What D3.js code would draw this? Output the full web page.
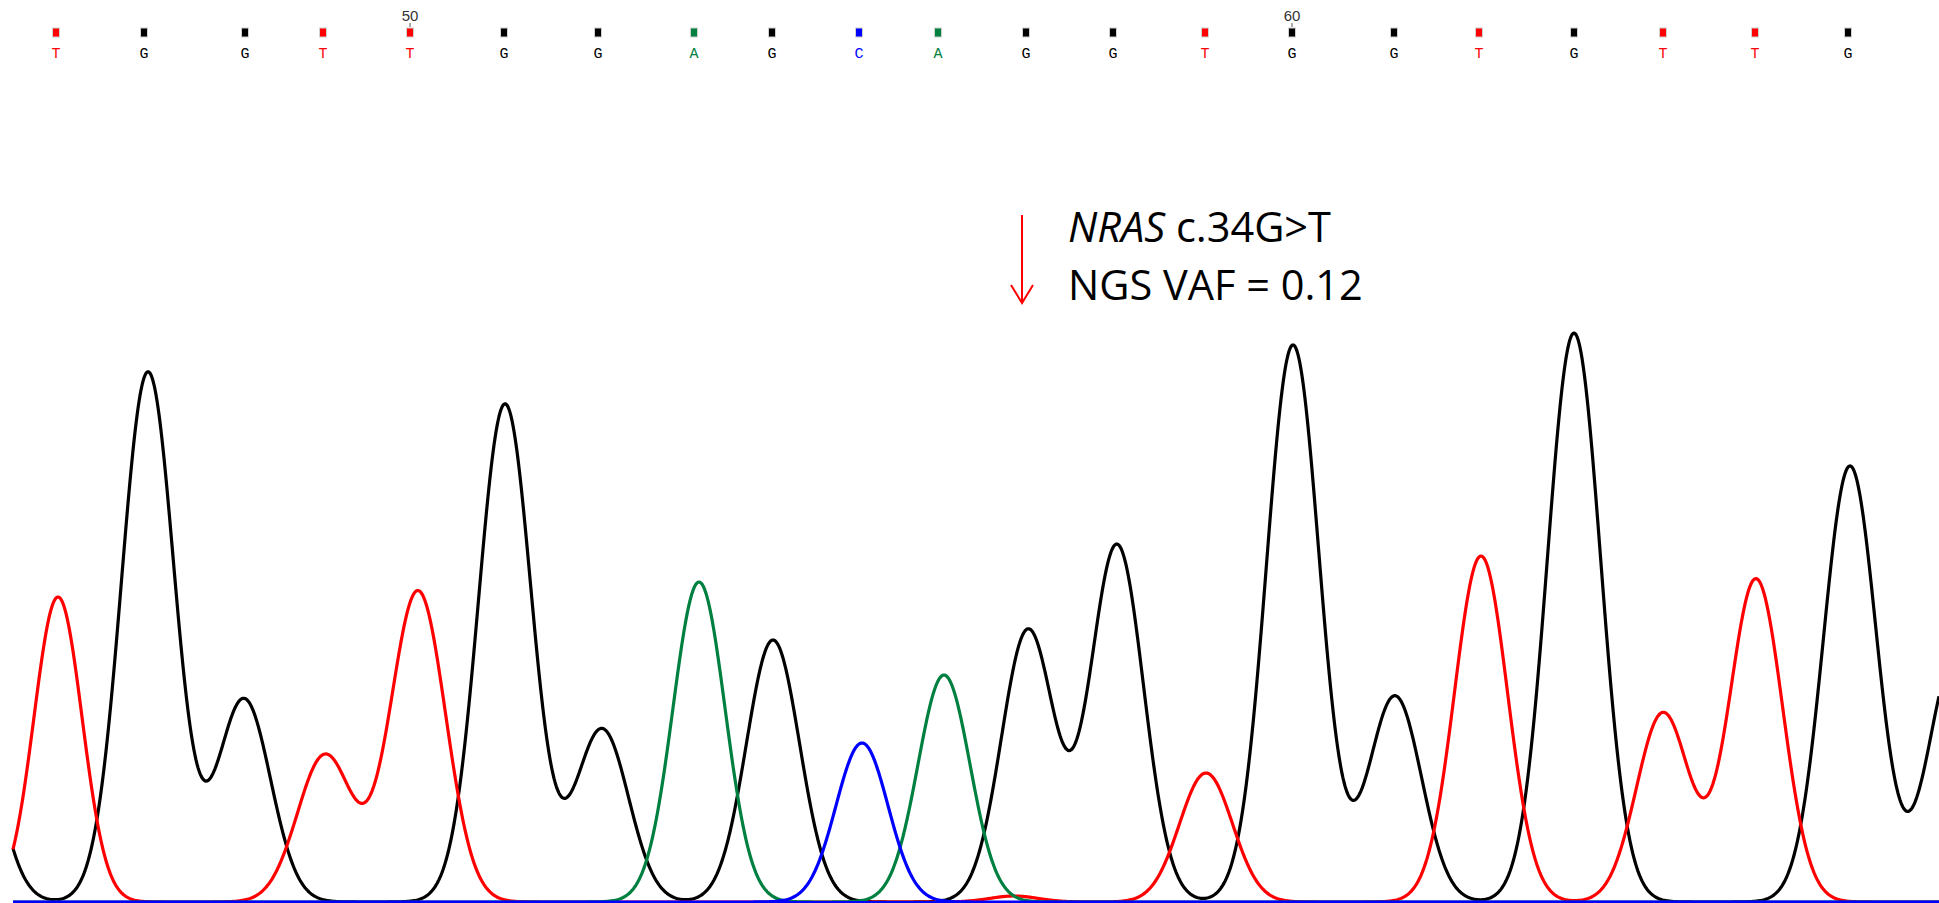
<!DOCTYPE html>
<html>
<head>
<meta charset="utf-8">
<script src="https://cdn.jsdelivr.net/npm/d3@7"></script>
<style>
html,body{margin:0;padding:0;background:#fff;overflow:hidden;}
svg{display:block;}
</style>
</head>
<body>
<svg id="chart" width="1939" height="903"></svg>
<script>
// ---------- DATA ----------
// base calls (scan position, base), first base is number 46
const baseNumbers = [46,47,48,49,50,51,52,53,54,55,56,57,58,59,60,61,62,63,64,65,66];
const baseLetters = ["T","G","G","T","T","G","G","A","G","C","A","G","G","T","G","G","T","G","T","T","G"];
const basePositions = [43,131,232,310,397,491,585,681,759,846,925,1013,1100,1192,1279,1381,1466,1561,1650,1742,1835];
const tickLabels = [50, 60];

// trace peaks per channel: centre (scan), height (signal), width (scan)
const gCenters = [-43,135,231,492,589,760,1015,1104,1280,1382,1561,1837,1942];
const gHeights = [200,530,203,498,173,262,272,357,557,206,569,436,245];
const gWidths  = [26.5,26.5,26.5,26.5,26.5,26.5,26.5,26.5,26.5,26.5,26.5,26.5,26.5];
const tCenters = [45,312,405,1001,1193,1468,1650,1743];
const tHeights = [305,147,311,6,129,346,189,323];
const tWidths  = [24,27.5,27.5,24,26.5,26.5,26.5,26.5];
const aCenters = [686,931];
const aHeights = [320,227];
const aWidths  = [26,26];
const cCenters = [849];
const cHeights = [159];
const cWidths  = [26];

const annotationScan = 1009;
const annotationGene = "NRAS";
const annotationChange = " c.34G>T";
const annotationVaf = "NGS VAF = 0.12";

// ---------- DRAW ----------
const colors = {G:"#000000", T:"#ff0000", A:"#008040", C:"#0000ff"};
const svg = d3.select("#chart");
const x = d3.scaleLinear().domain([0, 1926]).range([13, 1939]);
const y = d3.scaleLinear().domain([0, 900]).range([902, 2]);

function trace(centers, heights, widths){
  const pts = [];
  for(let s = 0; s <= 1926; s += 1){
    let v = 0;
    for(let i = 0; i < centers.length; i++){
      const d = s - centers[i];
      v += heights[i] * Math.exp(-d*d/(2*widths[i]*widths[i]));
    }
    pts.push([s, v]);
  }
  return pts;
}
const line = d3.line().x(d => x(d[0])).y(d => y(d[1]));

const channels = [
  {c:gCenters, h:gHeights, w:gWidths, col:colors.G},
  {c:tCenters, h:tHeights, w:tWidths, col:colors.T},
  {c:aCenters, h:aHeights, w:aWidths, col:colors.A},
  {c:cCenters, h:cHeights, w:cWidths, col:colors.C}
];
const tg = svg.append("g");
channels.forEach(ch => {
  tg.append("path")
    .attr("d", line(trace(ch.c, ch.h, ch.w)))
    .attr("fill","none")
    .attr("stroke", ch.col)
    .attr("stroke-width", 3.2)
    .attr("stroke-linejoin","round");
});
// baseline
svg.append("line")
  .attr("x1", x(0)).attr("x2", x(1926))
  .attr("y1", y(0)).attr("y2", y(0))
  .attr("stroke","#0000ff").attr("stroke-width",2);

// base call markers and letters
const bg = svg.append("g");
basePositions.forEach((p,i) => {
  const col = colors[baseLetters[i]];
  bg.append("rect")
    .attr("x", x(p) - 3.5).attr("y", 28)
    .attr("width", 7).attr("height", 9)
    .attr("fill", col).attr("stroke", "#d0d0d0").attr("stroke-width", 1);
  bg.append("text")
    .attr("x", x(p)).attr("y", 58)
    .attr("text-anchor","middle")
    .attr("font-family","'Liberation Mono', 'DejaVu Sans Mono', monospace")
    .attr("font-size", 15)
    .attr("fill", col)
    .text(baseLetters[i]);
  if (tickLabels.includes(baseNumbers[i])) {
    bg.append("text")
      .attr("x", x(p)).attr("y", 21)
      .attr("text-anchor","middle")
      .attr("font-family","'Liberation Sans', Arial, sans-serif")
      .attr("font-size", 15)
      .attr("fill", "#333")
      .text(baseNumbers[i]);
    bg.append("line")
      .attr("x1", x(p)).attr("x2", x(p))
      .attr("y1", 23).attr("y2", 27)
      .attr("stroke","#555").attr("stroke-width",1);
  }
});

// annotation arrow
const ax = x(annotationScan);
const ag = svg.append("g").attr("stroke","#ff0000").attr("stroke-width",2).attr("fill","none");
ag.append("line").attr("x1",ax).attr("x2",ax).attr("y1",215).attr("y2",303);
ag.append("polyline").attr("points", `${ax-11},285 ${ax},303 ${ax+11},285`);

const t1 = svg.append("text")
  .attr("x", ax + 46).attr("y", 242)
  .attr("font-family","'Open Sans', sans-serif")
  .attr("font-size", 41.5).attr("fill","#000");
t1.append("tspan").attr("font-style","italic").text(annotationGene);
t1.append("tspan").text(annotationChange);
svg.append("text")
  .attr("x", ax + 46).attr("y", 300)
  .attr("font-family","'Open Sans', sans-serif")
  .attr("font-size", 41.5).attr("fill","#000")
  .text(annotationVaf);
</script>
</body>
</html>
